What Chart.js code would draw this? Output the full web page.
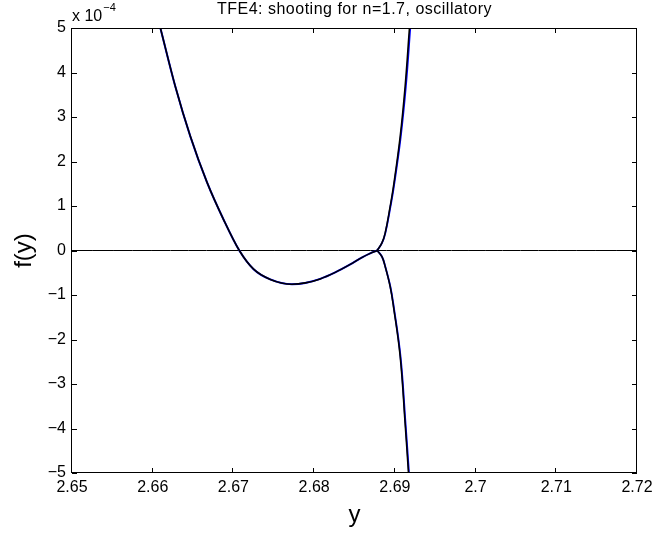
<!DOCTYPE html>
<html>
<head>
<meta charset="utf-8">
<script src="https://cdn.jsdelivr.net/npm/chart.js@4"></script>
<style>
  html, body { margin: 0; background: #fff; }
</style>
</head>
<body>
<canvas id="grafico" width="654" height="533"></canvas>
<script>
// f(y) values are in units of 1e-4 (axis shows "x 10^-4")
const xRange = [2.65, 2.72];
const yRange = [-5, 5];

// left branch: down through the minimum and up to the cusp (blue and black coincide here)
const leftX = [2.66095, 2.66281, 2.66467, 2.66673, 2.66879, 2.67073, 2.6725, 2.67457, 2.67725, 2.6789, 2.68075, 2.68261, 2.68447, 2.68595, 2.68694, 2.68781];
const leftY = [5.0, 3.68, 2.56, 1.53, 0.69, 0, -0.42, -0.65, -0.757, -0.728, -0.638, -0.492, -0.312, -0.155, -0.065, 0];

// branch going up from the cusp
const blackUpX = [2.68781, 2.6884, 2.6888, 2.68942, 2.68983, 2.69066, 2.69127, 2.69181];
const blueUpX = [2.68781, 2.68841, 2.68882, 2.68946, 2.68988, 2.69073, 2.69136, 2.69191];
const upY = [0, 0.17, 0.39, 0.99, 1.44, 2.56, 3.68, 5.0];

// branch going down from the cusp
const blackDownX = [2.68781, 2.6884, 2.6888, 2.68942, 2.68983, 2.69066, 2.69127, 2.69168, 2.69172];
const blueDownX = [2.68781, 2.68841, 2.68881, 2.68944, 2.68986, 2.6907, 2.69132, 2.69174, 2.69178];
const downY = [0, -0.14, -0.36, -0.81, -1.26, -2.38, -3.88, -4.97, -5.1];

const zeroX = [2.65, 2.72];
const zeroY = [0, 0];

const xTicks = [2.65, 2.66, 2.67, 2.68, 2.69, 2.7, 2.71, 2.72];
const yTicks = [-5, -4, -3, -2, -1, 0, 1, 2, 3, 4, 5];

const titulo = 'TFE4: shooting for n=1.7, oscillatory';
const FONTE = '"Liberation Sans", Arial, sans-serif';

function pares(xs, ys) {
  return xs.map((x, i) => ({ x: x, y: ys[i] }));
}

// monotone for the x-monotone left branch, bezier tension for the steep ones
function linha(xs, ys, cor, larg, monotone) {
  return {
    data: pares(xs, ys),
    borderColor: cor,
    borderWidth: larg,
    pointRadius: 0,
    showLine: true,
    fill: false,
    tension: 0.4,
    cubicInterpolationMode: monotone ? 'monotone' : 'default'
  };
}

// box, inward ticks, title and exponent label (matlab look)
const moldura = {
  id: 'moldura',
  afterDraw(chart) {
    const { ctx, chartArea: a, scales: { x, y } } = chart;
    ctx.save();
    ctx.strokeStyle = '#000';
    ctx.lineWidth = 1;
    ctx.strokeRect(a.left - 0.5, a.top + 0.5, a.right - a.left, a.bottom - a.top - 1);
    const tl = 5;
    ctx.beginPath();
    xTicks.forEach(v => {
      const px = Math.round(x.getPixelForValue(v)) - 0.5;
      ctx.moveTo(px, a.bottom); ctx.lineTo(px, a.bottom - tl);
      ctx.moveTo(px, a.top); ctx.lineTo(px, a.top + tl);
    });
    yTicks.forEach(v => {
      const py = Math.round(y.getPixelForValue(v)) + 0.5;
      ctx.moveTo(a.left, py); ctx.lineTo(a.left + tl, py);
      ctx.moveTo(a.right, py); ctx.lineTo(a.right - tl, py);
    });
    ctx.stroke();

    ctx.fillStyle = '#000';
    ctx.textBaseline = 'alphabetic';
    ctx.font = '16px ' + FONTE;
    ctx.letterSpacing = '0.5px';
    ctx.textAlign = 'center';
    ctx.fillText(titulo, (a.left + a.right) / 2, 14);
    ctx.letterSpacing = '0px';

    ctx.textAlign = 'left';
    ctx.font = '16px ' + FONTE;
    ctx.fillText('x 10', a.left, 21);
    const w = ctx.measureText('x 10').width;
    ctx.font = '11px ' + FONTE;
    ctx.fillText('\u22124', a.left + w + 1, 11);
    ctx.restore();
  }
};

const ctx = document.getElementById('grafico').getContext('2d');

// first dataset is drawn on top
new Chart(ctx, {
  type: 'scatter',
  data: {
    datasets: [
      linha(leftX, leftY, '#000', 1.6, true),
      linha(blackUpX, upY, '#000', 1.6),
      linha(blackDownX, downY, '#000', 1.6),
      linha(leftX, leftY, '#0000ff', 2, true),
      linha(blueUpX, upY, '#0000ff', 1.8),
      linha(blueDownX, downY, '#0000ff', 1.8),
      linha(zeroX, zeroY, '#000', 1)
    ]
  },
  options: {
    responsive: false,
    animation: false,
    devicePixelRatio: 1,
    layout: { padding: { left: 0, right: 17, top: 28, bottom: 0 } },
    plugins: {
      legend: { display: false },
      title: { display: false },
      tooltip: { enabled: false }
    },
    scales: {
      x: {
        type: 'linear',
        min: xRange[0],
        max: xRange[1],
        afterFit: s => { s.height = 60; s.paddingLeft = 0; s.paddingRight = 0; },
        afterBuildTicks: s => { s.ticks = xTicks.map(v => ({ value: v })); },
        grid: { display: false, drawTicks: false },
        border: { display: false },
        ticks: {
          autoSkip: false,
          maxRotation: 0,
          padding: 5,
          color: '#000',
          font: { family: FONTE, size: 16 },
          callback: v => String(+v.toFixed(2))
        },
        title: {
          display: true,
          text: 'y',
          color: '#000',
          font: { family: FONTE, size: 24 },
          padding: { top: 0, bottom: 3 }
        }
      },
      y: {
        type: 'linear',
        min: yRange[0],
        max: yRange[1],
        afterFit: s => { s.width = 72; s.paddingTop = 0; s.paddingBottom = 0; },
        afterBuildTicks: s => { s.ticks = yTicks.map(v => ({ value: v })); },
        grid: { display: false, drawTicks: false },
        border: { display: false },
        ticks: {
          autoSkip: false,
          padding: 6,
          color: '#000',
          font: { family: FONTE, size: 16 },
          callback: v => v < 0 ? '\u2212' + (-v) : String(v)
        },
        title: {
          display: true,
          text: 'f(y)',
          color: '#000',
          font: { family: FONTE, size: 24 },
          padding: { top: 10, bottom: 0 }
        }
      }
    }
  },
  plugins: [moldura]
});
</script>
</body>
</html>
